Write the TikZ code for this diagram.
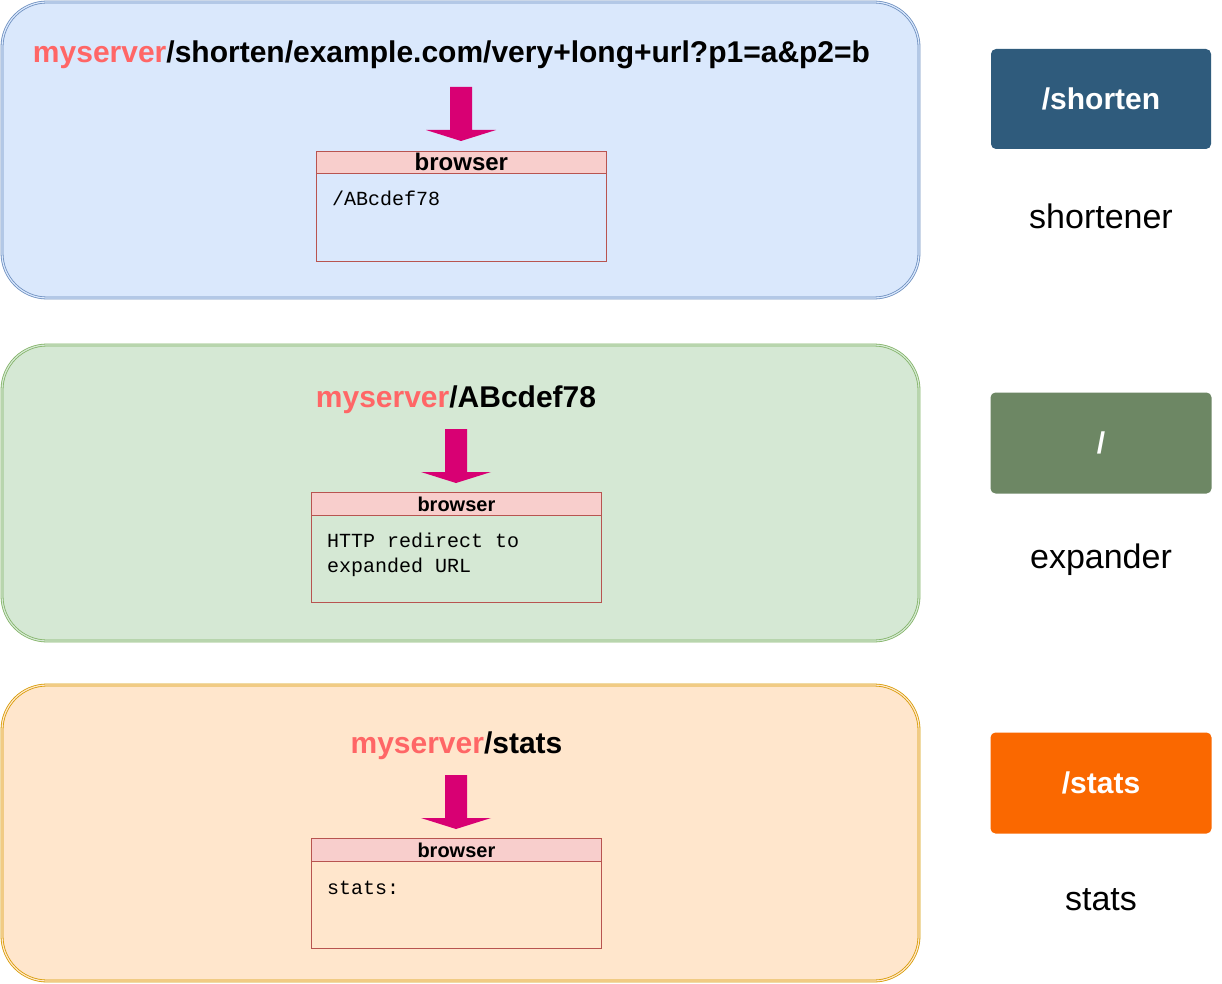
\documentclass[tikz,border=0pt]{standalone}
\usepackage{fontspec}
\setmainfont{Liberation Sans}
\setmonofont{Liberation Mono}
\usetikzlibrary{positioning, calc}

\definecolor{bluefill}{HTML}{DAE8FC}\definecolor{blueedge}{HTML}{6C8EBF}
\definecolor{greenfill}{HTML}{D5E8D4}\definecolor{greenedge}{HTML}{82B366}
\definecolor{orangefill}{HTML}{FFE6CC}\definecolor{orangeedge}{HTML}{D79B00}
\definecolor{hostred}{HTML}{FF6666}
\definecolor{arrowpink}{HTML}{D80073}
\definecolor{headfill}{HTML}{F8CECC}\definecolor{headedge}{HTML}{B85450}
\definecolor{btnblue}{HTML}{2F5B7C}\definecolor{btngreen}{HTML}{6D8764}\definecolor{btnorange}{HTML}{FA6800}

\newcommand{\host}{{\color{hostred}myserver}}

\tikzset{
  lane/.style={rectangle, rounded corners=45pt, line width=0.8pt, double distance=1.2pt, minimum width=917pt, minimum height=296pt, inner sep=0pt},
  urltext/.style={font=\bfseries\fontsize{30}{36}\selectfont, inner sep=0pt, anchor=base},
  bodybox/.style={rectangle, draw=headedge, line width=0.8pt, minimum width=290pt, minimum height=110pt, inner sep=0pt, anchor=north west},
  headbox/.style={rectangle, draw=headedge, fill=headfill, line width=0.8pt, minimum width=290pt, minimum height=23pt, inner sep=0pt, anchor=north, font=\bfseries\fontsize{20}{24}\selectfont},
  bodytext/.style={font=\ttfamily\fontsize{20}{25}\selectfont, inner sep=0pt, anchor=base west, align=left},
  routebtn/.style={rectangle, rounded corners=5pt, minimum width=221pt, minimum height=101pt, inner sep=0pt, text=white, font=\bfseries\fontsize{30}{36}\selectfont},
  caption/.style={font=\fontsize{34}{40}\selectfont, inner sep=0pt},
  dnarrow/.pic={\fill[arrowpink] (-11,0) -- (11,0) -- (11,43) -- (35,43) -- (0,54) -- (-35,43) -- (-11,43) -- cycle;}
}

\begin{document}
\begin{tikzpicture}[x=1pt, y=-1pt]
  \useasboundingbox[fill=white] (0,0) rectangle (1222,984);

  % lanes
  \node[lane, draw=blueedge, fill=bluefill, double=bluefill] (shortlane) at (460.5,150) {};
  \node[lane, draw=greenedge, fill=greenfill, double=greenfill] (expandlane) at (460.5,493) {};
  \node[lane, draw=orangeedge, fill=orangefill, double=orangefill] (statslane) at (460.5,833) {};

  % shortener
  \node[urltext] (shorturl) at (451.5,63) {\host/shorten/example.com/very+long+url?p1=a\&p2=b};
  \pic at (461,87) {dnarrow};
  \node[bodybox] (shortbody) at (316,151) {};
  \node[headbox, minimum height=22pt, font=\bfseries\fontsize{24}{28}\selectfont] (shorthead) at (shortbody.north) {browser};
  \node[bodytext] (shortreply) at (332,206) {/ABcdef78};

  % expander
  \node[urltext] (expandurl) at (456,407) {\host/ABcdef78};
  \pic at (456,429) {dnarrow};
  \node[bodybox] (expandbody) at (311,492) {};
  \node[headbox] (expandhead) at (expandbody.north) {browser};
  \node[bodytext] (expandreply) at (327,572) {HTTP redirect to\\expanded URL};

  % stats
  \node[urltext] (statsurl) at (456.5,753) {\host/stats};
  \pic at (456,775) {dnarrow};
  \node[bodybox] (statsbody) at (311,838) {};
  \node[headbox] (statshead) at (statsbody.north) {browser};
  \node[bodytext] (statsreply) at (327,894) {stats:};

  % routes
  \node[routebtn, fill=btnblue, minimum width=220pt, minimum height=100pt] (shortbtn) at (1101,99) {/shorten};
  \node[caption] (shortcap) at (1101,216) {shortener};
  \node[routebtn, fill=btngreen] (expandbtn) at (1101,443) {/};
  \node[caption] (expandcap) at (1101,560) {expander};
  \node[routebtn, fill=btnorange] (statsbtn) at (1101,783) {/stats};
  \node[caption] (statscap) at (1101,900) {stats};
\end{tikzpicture}
\end{document}
